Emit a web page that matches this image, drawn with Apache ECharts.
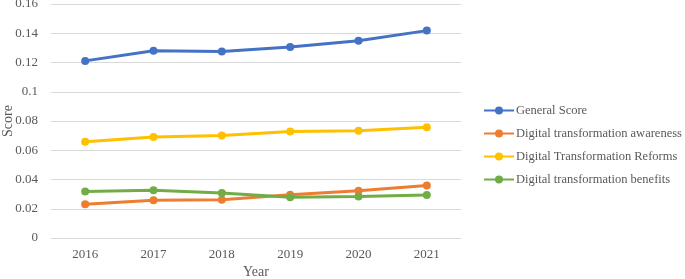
<!DOCTYPE html>
<html><head><meta charset="utf-8">
<script src="https://cdn.jsdelivr.net/npm/echarts@6/dist/echarts.min.js"></script>
<style>html,body{margin:0;padding:0;background:#fff}#c{width:685px;height:279px}</style>
</head><body><div id="c"></div>
<script>
const years = ['2016','2017','2018','2019','2020','2021'];
const generalScore = [0.1211, 0.1281, 0.1276, 0.1306, 0.1348, 0.1418];
const awareness = [0.0230, 0.0258, 0.0261, 0.0295, 0.0323, 0.0359];
const reforms = [0.0658, 0.0690, 0.0701, 0.0728, 0.0733, 0.0758];
const benefits = [0.0318, 0.0326, 0.0307, 0.0278, 0.0284, 0.0294];
const seriesNames = ['General Score','Digital transformation awareness','Digital Transformation Reforms','Digital transformation benefits'];
const colors = ['#4472C4','#ED7D31','#FFC000','#70AD47'];
const yTicks = ['0','0.02','0.04','0.06','0.08','0.1','0.12','0.14','0.16'];
const font = '"Liberation Serif","Times New Roman",serif';
const chart = echarts.init(document.getElementById('c'));
const dataSets = [generalScore, awareness, reforms, benefits];
chart.setOption({
  animation: false,
  textStyle: {fontFamily: font},
  grid: {left: 51, right: 224, top: 4, bottom: 41, containLabel: false, outerBoundsMode: 'none'},
  legend: {
    orient: 'vertical', left: 483, top: 104, padding: 0, itemWidth: 30, itemHeight: 10, itemGap: 10,
    textStyle: {fontFamily: font, fontSize: 12.5, color: '#595959', padding: [0,0,0,-3]},
    data: seriesNames
  },
  xAxis: {
    type: 'category', data: years, boundaryGap: true,
    name: 'Year', nameLocation: 'middle', nameGap: 27, nameMoveOverlap: false,
    nameTextStyle: {fontFamily: font, fontSize: 14, color: '#595959'},
    axisLine: {show: false}, axisTick: {show: false},
    axisLabel: {fontFamily: font, fontSize: 13, color: '#595959', margin: 10}
  },
  yAxis: {
    type: 'value', min: 0, max: 0.16, interval: 0.02,
    name: 'Score', nameLocation: 'middle', nameGap: 36, nameRotate: 90, nameMoveOverlap: false,
    nameTextStyle: {fontFamily: font, fontSize: 14, color: '#595959'},
    axisLine: {show: false}, axisTick: {show: false},
    axisLabel: {fontFamily: font, fontSize: 13, color: '#595959', margin: 13,
      formatter: v => yTicks[Math.round(v / 0.02)]},
    splitLine: {lineStyle: {color: '#d9d9d9', width: 1}}
  },
  series: seriesNames.map((n, i) => ({
    name: n, type: 'line', data: dataSets[i],
    symbol: 'circle', symbolSize: 8,
    lineStyle: {color: colors[i], width: 3},
    itemStyle: {color: colors[i]}
  }))
});
</script></body></html>
